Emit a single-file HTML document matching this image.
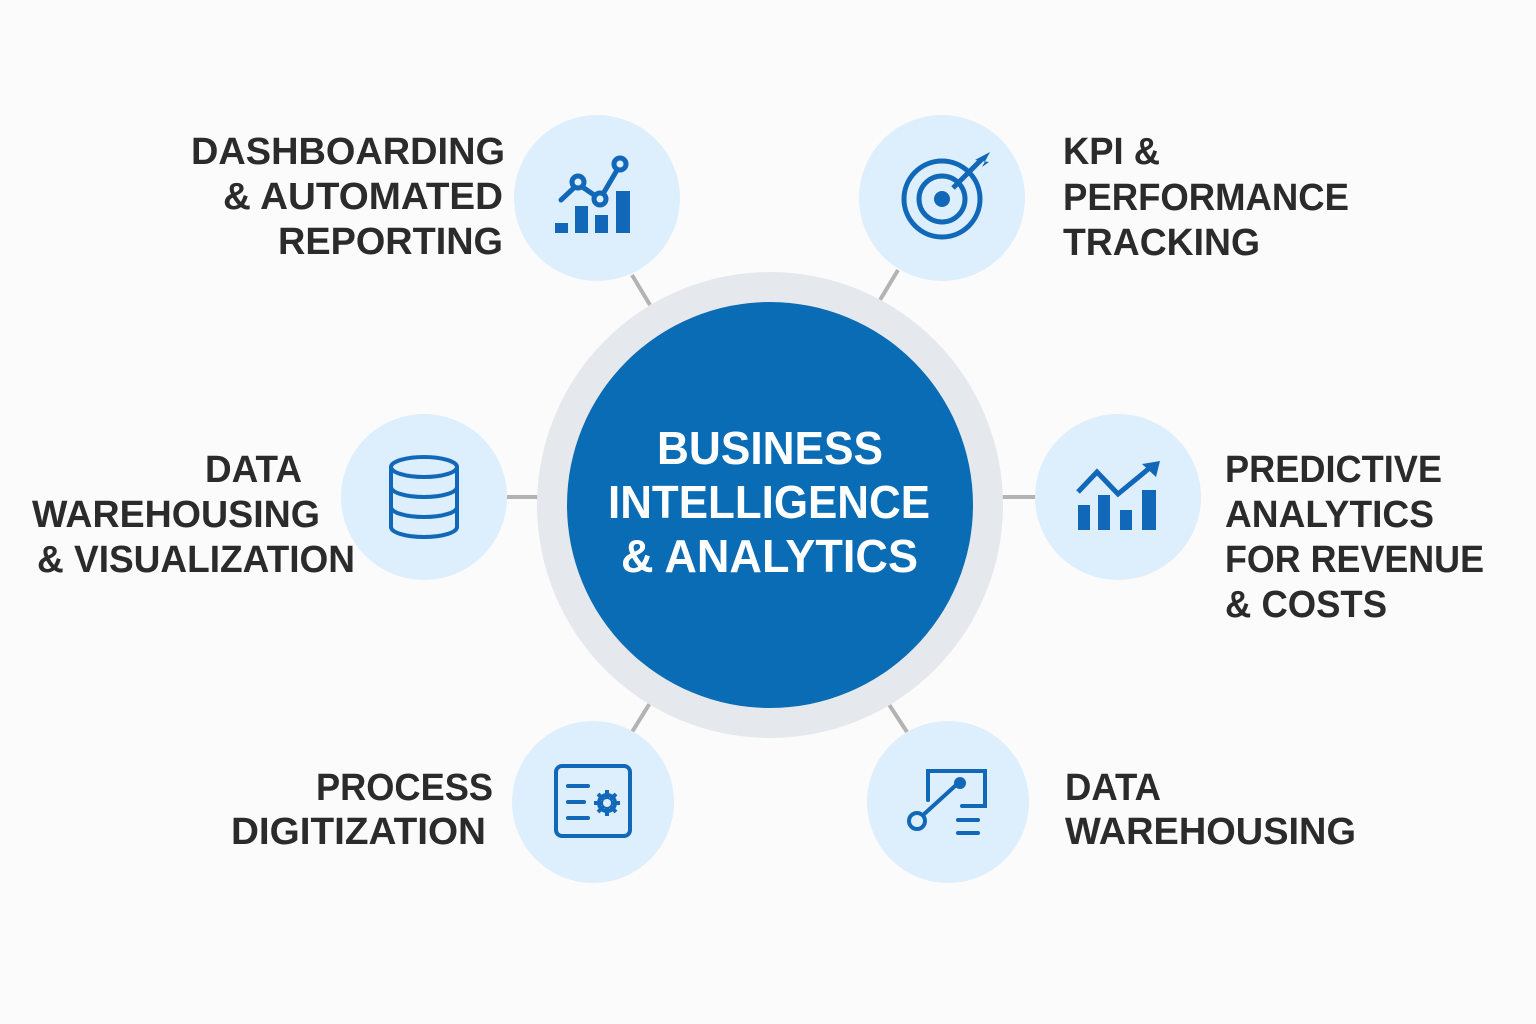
<!DOCTYPE html>
<html><head><meta charset="utf-8"><style>
html,body{margin:0;padding:0;background:#fbfbfb;}
svg{display:block}
text{font-family:"Liberation Sans",sans-serif;font-weight:bold;}
</style></head><body>
<svg width="1536" height="1024" viewBox="0 0 1536 1024">
<rect width="1536" height="1024" fill="#fbfbfb"/>
<g stroke="#b3b3b3" stroke-width="4">
<line x1="632" y1="275" x2="650" y2="305"/>
<line x1="898" y1="270" x2="880" y2="300"/>
<line x1="507" y1="497" x2="540" y2="497"/>
<line x1="1000" y1="497" x2="1035" y2="497"/>
<line x1="650" y1="703" x2="632" y2="732"/>
<line x1="888" y1="703" x2="907" y2="732"/>
</g>
<circle cx="770" cy="505" r="233" fill="#e5e9ee"/>
<circle cx="770" cy="505" r="203" fill="#0a6cb4"/>
<g fill="#ddeefc">
<circle cx="597" cy="198" r="83"/>
<circle cx="942" cy="198" r="83"/>
<circle cx="424" cy="497" r="83"/>
<circle cx="1118" cy="497" r="83"/>
<circle cx="593" cy="802" r="81"/>
<circle cx="948" cy="802" r="81"/>
</g>
<g transform="translate(0,-2)">
<g fill="#fff" font-size="46" text-anchor="start">
<text x="657" y="466" textLength="226" lengthAdjust="spacingAndGlyphs">BUSINESS</text>
<text x="608" y="520" textLength="322" lengthAdjust="spacingAndGlyphs">INTELLIGENCE</text>
<text x="621" y="574" textLength="297" lengthAdjust="spacingAndGlyphs">&amp; ANALYTICS</text>
</g>
<g fill="#2b2b2b" font-size="38">
<text x="191" y="166" textLength="314" lengthAdjust="spacingAndGlyphs">DASHBOARDING</text>
<text x="223" y="211" textLength="280" lengthAdjust="spacingAndGlyphs">&amp; AUTOMATED</text>
<text x="278" y="256" textLength="225" lengthAdjust="spacingAndGlyphs">REPORTING</text>
<text x="1063" y="166" textLength="97" lengthAdjust="spacingAndGlyphs">KPI &amp;</text>
<text x="1063" y="212" textLength="286" lengthAdjust="spacingAndGlyphs">PERFORMANCE</text>
<text x="1063" y="257" textLength="197" lengthAdjust="spacingAndGlyphs">TRACKING</text>
<text x="205" y="484" textLength="97" lengthAdjust="spacingAndGlyphs">DATA</text>
<text x="32" y="529" textLength="288" lengthAdjust="spacingAndGlyphs">WAREHOUSING</text>
<text x="37" y="574" textLength="318" lengthAdjust="spacingAndGlyphs">&amp; VISUALIZATION</text>
<text x="1225" y="484" textLength="217" lengthAdjust="spacingAndGlyphs">PREDICTIVE</text>
<text x="1225" y="529" textLength="209" lengthAdjust="spacingAndGlyphs">ANALYTICS</text>
<text x="1225" y="574" textLength="259" lengthAdjust="spacingAndGlyphs">FOR REVENUE</text>
<text x="1225" y="619" textLength="162" lengthAdjust="spacingAndGlyphs">&amp; COSTS</text>
<text x="316" y="802" textLength="177" lengthAdjust="spacingAndGlyphs">PROCESS</text>
<text x="231" y="846" textLength="255" lengthAdjust="spacingAndGlyphs">DIGITIZATION</text>
<text x="1065" y="802" textLength="96" lengthAdjust="spacingAndGlyphs">DATA</text>
<text x="1065" y="846" textLength="291" lengthAdjust="spacingAndGlyphs">WAREHOUSING</text>
</g>
</g>
<g fill="#1268b8" stroke="none">
<rect x="555" y="223" width="13" height="10"/>
<rect x="575" y="206" width="13" height="27"/>
<rect x="595" y="215" width="13" height="18"/>
<rect x="616" y="191" width="14" height="42"/>
</g>
<g fill="none" stroke="#1268b8" stroke-width="5" stroke-linecap="round">
<polyline points="561,200 578,184 600,199 620,165"/>
</g>
<g fill="#ddeefc" stroke="#1268b8" stroke-width="5">
<circle cx="578" cy="182" r="6"/><circle cx="600" cy="199" r="6"/><circle cx="620" cy="164" r="6"/>
</g>
<g fill="none" stroke="#1268b8" stroke-width="5">
<circle cx="942" cy="199" r="38"/><circle cx="942" cy="199" r="23"/>
<line x1="953" y1="188" x2="982" y2="159"/>
</g>
<circle cx="942" cy="199" r="8" fill="#1268b8"/>
<polygon points="975,160 990,152 982,167 989,162" fill="#1268b8"/>
<g fill="none" stroke="#1268b8" stroke-width="4">
<ellipse cx="424" cy="467" rx="33" ry="10"/>
<path d="M391,467 V527 A33,10 0 0 0 457,527 V467"/>
<path d="M391,487 A33,10 0 0 0 457,487"/>
<path d="M391,507 A33,10 0 0 0 457,507"/>
</g>
<g fill="#1268b8">
<rect x="1078" y="505" width="12" height="25"/>
<rect x="1098" y="495" width="12" height="35"/>
<rect x="1120" y="510" width="12" height="20"/>
<rect x="1142" y="490" width="14" height="40"/>
</g>
<polyline points="1078,492 1097,472 1118,494 1152,466" fill="none" stroke="#1268b8" stroke-width="5"/>
<polygon points="1160,461 1142,464 1156,477" fill="#1268b8"/>
<g fill="none" stroke="#1268b8" stroke-width="4" stroke-linecap="round">
<rect x="556" y="766" width="74" height="70" rx="6"/>
<line x1="568" y1="786" x2="588" y2="786"/>
<line x1="568" y1="802" x2="584" y2="802"/>
<line x1="568" y1="818" x2="588" y2="818"/>
<circle cx="607" cy="803" r="8"/>
</g>
<g stroke="#1268b8" stroke-width="4">
<line x1="607" y1="790" x2="607" y2="816"/><line x1="594" y1="803" x2="620" y2="803"/>
<line x1="598" y1="794" x2="616" y2="812"/><line x1="616" y1="794" x2="598" y2="812"/>
</g>
<circle cx="607" cy="803" r="4" fill="#ddeefc"/>
<g fill="none" stroke="#1268b8" stroke-width="4" stroke-linecap="round">
<path d="M928,800 V771 H985 V806 H962"/>
<line x1="922" y1="816" x2="955" y2="786"/>
<circle cx="917" cy="821" r="8" fill="#ddeefc"/>
<circle cx="960" cy="783" r="4" fill="#1268b8"/>
<line x1="958" y1="820" x2="978" y2="820"/>
<line x1="958" y1="833" x2="978" y2="833"/>
</g>
</svg>
</body></html>
